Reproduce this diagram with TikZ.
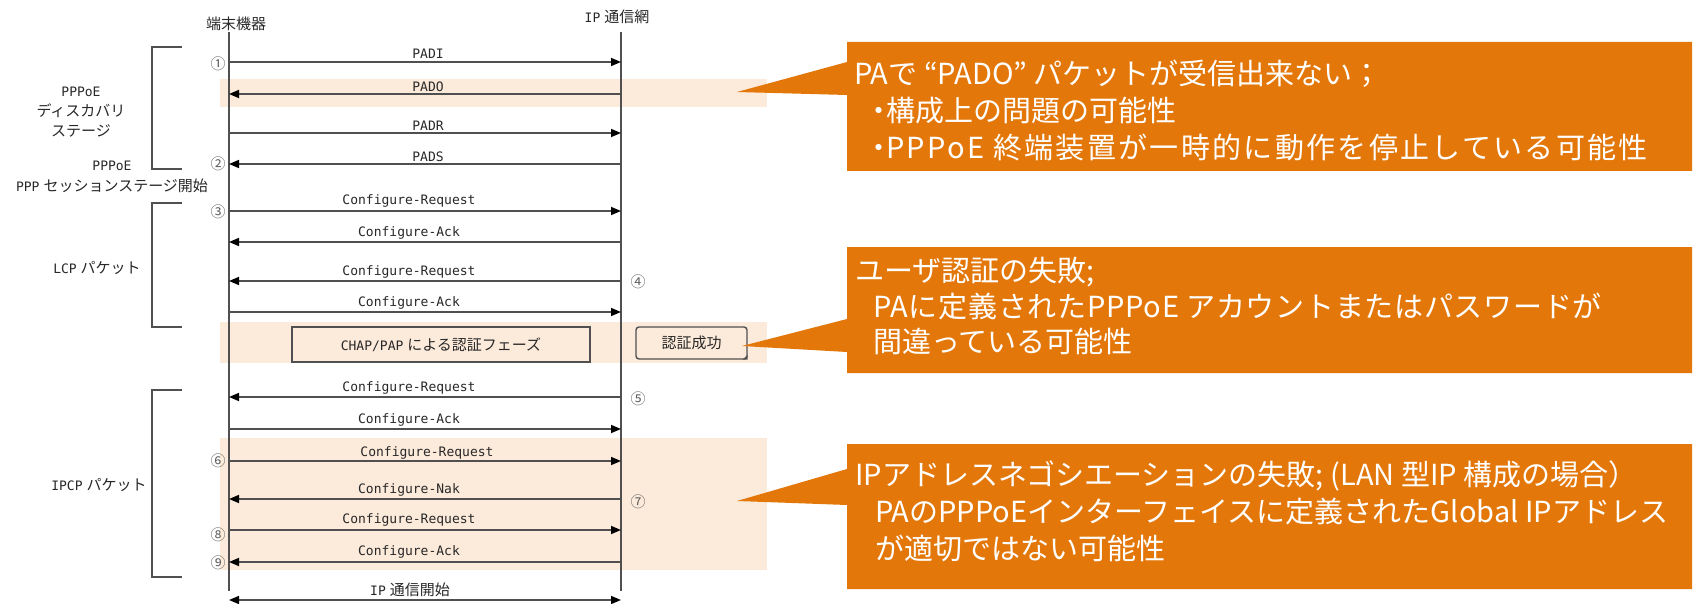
\documentclass[tikz,border=0pt]{standalone}
\usepackage{fontspec}
\usetikzlibrary{arrows.meta}
\newfontfamily\jpf{Noto Sans CJK JP}
\newfontfamily\mnf{DejaVu Sans Mono}
\newcommand{\mt}[1]{{\mnf\fontsize{13}{15}\selectfont #1}}
\newcommand{\mydot}{\hbox to 14pt{\hss ・\hss}}
\definecolor{lnc}{RGB}{80,80,80}
\definecolor{txc}{RGB}{40,40,40}
\definecolor{bandc}{RGB}{252,234,218}
\definecolor{orgc}{RGB}{227,119,9}
\definecolor{numc}{RGB}{95,95,95}
\begin{document}
\begin{tikzpicture}[x=1pt,y=-1pt,
  jp/.style={font=\jpf\fontsize{15}{19}\selectfont, text=txc, inner sep=0pt},
  lbl/.style={font=\mnf\fontsize{13}{15}\selectfont, text=txc, inner sep=0pt},
  numb/.style={font=\jpf\fontsize{15}{17}\selectfont, text=numc, inner sep=0pt},
  life/.style={draw=lnc, line width=1.6pt},
  msgarr/.style={draw=lnc, line width=1.6pt, -{Triangle[length=10pt,width=8pt,color=black]}},
  dblarr/.style={draw=lnc, line width=1.6pt, {Triangle[length=10pt,width=8pt,color=black]}-{Triangle[length=10pt,width=8pt,color=black]}},
  brk/.style={draw=lnc, line width=1.6pt},
  bandfill/.style={fill=bandc},
  callshape/.style={fill=orgc},
  ctext/.style={font=\jpf\fontsize{29}{37}\selectfont, text=white, align=left, inner sep=0pt, anchor=west},
  pbox/.style={draw=lnc, line width=1.4pt, jp},
]
\useasboundingbox (0,0) rectangle (1694,604);
\fill[white] (0,0) rectangle (1694,604);

% highlight bands
\fill[bandfill] (220,79) rectangle (767,107);
\fill[bandfill] (220,322) rectangle (767,363);
\fill[bandfill] (220,438) rectangle (767,570);

% headers
\node[jp] (hl) at (236,24) {端末機器};
\node[jp] (hr) at (617,17) {\mt{IP}\hspace{4pt}通信網};

% lifelines
\coordinate (lt) at (229,32);
\coordinate (lb) at (229,591);
\coordinate (rt) at (621,32);
\coordinate (rb) at (621,591);
\draw[life] (lt) -- (lb);
\draw[life] (rt) -- (rb);

% messages to the right
\foreach \n/\y/\lab/\lx/\ly in {
  padi/62/PADI/428/54,
  padr/133/PADR/428/126,
  cra/211/Configure-Request/409/201,
  cab/312/Configure-Ack/409/303,
  cac/429/Configure-Ack/409/420,
  crd/461/Configure-Request/427/453,
  cre/530/Configure-Request/409/520}
{
  \coordinate (\n-a) at (229,\y);
  \coordinate (\n-b) at (621,\y);
  \draw[msgarr] (\n-a) -- (\n-b);
  \node[lbl] (\n-l) at (\lx,\ly) {\lab};
}
% messages to the left
\foreach \n/\y/\lab/\lx/\ly in {
  pado/94/PADO/428/87,
  pads/164/PADS/428/157,
  caa/242/Configure-Ack/409/233,
  crb/281/Configure-Request/409/272,
  crc/397/Configure-Request/409/388,
  nak/499/Configure-Nak/409/490,
  cad/562/Configure-Ack/409/552}
{
  \coordinate (\n-a) at (229,\y);
  \coordinate (\n-b) at (621,\y);
  \draw[msgarr] (\n-b) -- (\n-a);
  \node[lbl] (\n-l) at (\lx,\ly) {\lab};
}
% IP communication start
\coordinate (ipa) at (229,600);
\coordinate (ipb) at (621,600);
\draw[dblarr] (ipa) -- (ipb);
\node[jp] (ipl) at (410,590) {\mt{IP}\hspace{4pt}通信開始};

% auth phase boxes
\node[pbox, minimum width=298pt, minimum height=35pt] (chap) at (441,344.5) {\mt{CHAP/PAP}\hspace{4pt}による認証フェーズ};
\node[pbox, rounded corners=3pt, minimum width=111pt, minimum height=32pt] (ok) at (691.5,343) {認証成功};
\fill[lnc] ([xshift=-5pt]ok.south east) -- ([yshift=5pt]ok.south east) -- (ok.south east) -- cycle;

% circled numbers
\node[numb] (n1) at (218,64) {①};
\node[numb] (n2) at (218,164) {②};
\node[numb] (n3) at (218,212) {③};
\node[numb] (n4) at (638,282) {④};
\node[numb] (n5) at (638,399) {⑤};
\node[numb] (n6) at (218,461) {⑥};
\node[numb] (n7) at (638,502) {⑦};
\node[numb] (n8) at (218,535) {⑧};
\node[numb] (n9) at (218,563) {⑨};

% brackets
\draw[brk] (182,47) -- (152,47) -- (152,169) -- (182,169);
\draw[brk] (182,203) -- (152,203) -- (152,327) -- (182,327);
\draw[brk] (182,390) -- (152,390) -- (152,577) -- (182,577);

% left stage labels
\node[jp, align=center] (disc) at (81,112) {\mt{PPPoE}\\[1pt]ディスカバリ\\[1pt]ステージ};
\node[jp, align=center] (sess) at (112,177) {\mt{PPPoE}\\[2pt]\mt{PPP}\hspace{4pt}セッションステージ開始};
\node[jp] (lcp) at (97,268) {\mt{LCP}\hspace{4pt}パケット};
\node[jp] (ipcp) at (99,485) {\mt{IPCP}\hspace{4pt}パケット};

% callouts
\fill[callshape] (847,42) -- (1692,42) -- (1692,171) -- (847,171) -- (847,95) -- (737,92) -- (847,62) -- cycle;
\node[ctext] (c1) at (854,110) {PAで “PADO” パケットが受信出来ない；\\\hspace*{18pt}\mydot 構成上の問題の可能性\\\hspace*{18pt}{\addfontfeatures{LetterSpace=8}\mydot PPPoE 終端装置が一時的に動作を停止している可能性}};

\fill[callshape] (847,247) -- (1692,247) -- (1692,373) -- (847,373) -- (847,352) -- (742,346) -- (847,319) -- cycle;
\node[ctext, font=\jpf\fontsize{29}{35.5}\selectfont] (c2) at (855,306) {ユーザ認証の失敗;\\\hspace*{18pt}{\addfontfeatures{LetterSpace=2.5}PAに定義されたPPPoE アカウントまたはパスワードが}\\\hspace*{18pt}間違っている可能性};

\fill[callshape] (847,444) -- (1692,444) -- (1692,589) -- (847,589) -- (847,505) -- (737,501) -- (847,469) -- cycle;
\node[ctext] (c3) at (855,511) {IPアドレスネゴシエーションの失敗; (LAN 型IP 構成の場合）\\\hspace*{20pt}PAのPPPoEインターフェイスに定義されたGlobal IPアドレス\\\hspace*{20pt}が適切ではない可能性};
\end{tikzpicture}
\end{document}
